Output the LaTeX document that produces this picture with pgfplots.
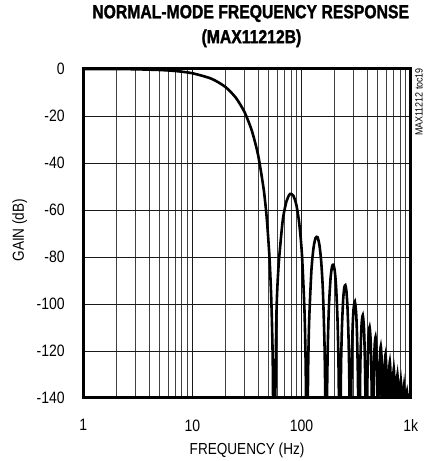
\documentclass[border=0pt]{standalone}
\usepackage{fontspec}
\setmainfont[FakeStretch=0.85, BoldFeatures={FakeStretch=0.83, FakeBold=1.5}]{Liberation Sans}
\usepackage{pgfplots}
\pgfplotsset{compat=1.18}

\begin{document}
\begin{tikzpicture}
\begin{axis}[
  name=ax, at={(0,0)}, anchor=south west,
  scale only axis, width=328pt, height=329.5pt,
  xmode=log, xmin=1, xmax=1000, ymin=-140, ymax=0,
  xtick={1,10,100,1000}, xticklabels={1,10,100,1k},
  minor xtick={2,3,4,5,6,7,8,9,20,30,40,50,60,70,80,90,200,300,400,500,600,700,800,900},
  ytick={-140,-120,-100,-80,-60,-40,-20,0},
  yticklabels={-140,-120,-100,-80,-60,-40,-20,0},
  grid=both,
  major grid style={black!90, line width=0.75pt},
  minor grid style={black!75, line width=0.75pt},
  major tick length=0pt, minor tick length=0pt,
  axis line style={line width=3pt},
  ticklabel style={font=\fontsize{16.5}{19}\selectfont, inner sep=0pt},
  xticklabel style={anchor=north, yshift=-21.5pt},
  yticklabel style={anchor=east, xshift=-18.3pt},
]
% sinc^4 response, nulls every 56 Hz (below -140 dB clipped)
\addplot[black, line width=2.6pt, smooth, tension=0.4] coordinates {
  (1,-0.02) (2,-0.07) (3,-0.16) (5,-0.46) (7,-0.90) (10,-1.84) (15,-4.20)
  (20,-7.62) (25,-12.24) (30,-18.31) (35,-26.19) (40,-36.63) (45,-51.19)
  (48,-63.43) (51,-81.15) (53,-99.94) (54.5,-124.9) (56,-180)
  (58.8,-106.0) (61.6,-83.9) (67.2,-64.6) (72.8,-56.3) (78.4,-53.2) (84,-53.9)
  (89.6,-57.8) (95.2,-65.6) (100.8,-78.7) (106.4,-102.9) (109.2,-127.5) (112,-180)
  (114.8,-129.2) (117.6,-106.4) (123.2,-85.6) (128.8,-76.1) (134.4,-71.9) (140,-71.6)
  (145.6,-74.7) (151.2,-81.6) (156.8,-94.0) (162.4,-117.6) (165.2,-141.9) (168,-180)
  (170.8,-143.0) (173.6,-119.9) (176.4,-107.0) (179.2,-98.6) (184.8,-88.6) (190.4,-84.0)
  (196,-83.3) (201.6,-86.0) (207.2,-92.6) (212.8,-104.6) (215.6,-114.0) (218.4,-127.9)
  (221.2,-152.0) (224,-180)
  (229.6,-129.6) (232.4,-116.6) (235.2,-108.1) (240.8,-97.8) (246.4,-93.0) (252,-92.0)
  (257.6,-94.5) (263.2,-100.9) (268.8,-112.7) (271.6,-122.0) (274.4,-135.8) (280,-180)
  (285.6,-137.2) (288.4,-124.1) (294,-109.4) (299.6,-102.1) (308,-99.0) (316.4,-104.0)
  (322,-112.6) (327.6,-128.5) (330.4,-142.2) (336,-180)
  (344.4,-130.3) (350,-115.5) (355.6,-108.0) (364,-104.8) (372.4,-109.6) (378,-118.2)
  (383.6,-134.0) (392,-180)
  (400.4,-135.5) (406,-120.6) (411.6,-113.1) (420,-109.8) (428.4,-114.5) (434,-123.0)
  (439.6,-138.8) (448,-180)
  (456.4,-140.1) (462,-125.1) (467.6,-117.5) (476,-114.1) (484.4,-118.7) (490,-127.2)
  (495.6,-142.9) (504,-180)
  (513.6,-144.1) (518,-129.1) (523.6,-121.5) (532,-118.0) (540.4,-122.5) (546,-130.9)
  (551.6,-146.6) (560,-180)
  (574,-132.7) (579.6,-125.0) (588,-121.5) (596.4,-126.0) (602,-134.3) (616,-180)
  (630,-135.9) (635.6,-128.2) (644,-124.6) (652.4,-129.1) (658,-137.4) (672,-180)
  (686,-138.9) (691.6,-131.1) (700,-127.5) (708.4,-131.9) (714,-140.3) (728,-180)
  (742,-141.6) (747.6,-133.8) (756,-130.2) (764.4,-134.6) (770,-142.9) (784,-180)
  (798,-144.1) (803.6,-136.3) (812,-132.7) (820.4,-137.1) (826,-145.3) (840,-180)
  (854,-146.5) (859.6,-138.7) (868,-135.0) (876.4,-139.3) (882,-147.6) (896,-180)
  (910,-148.9) (918.4,-138.7) (924,-137.2) (929.6,-139.1) (938,-149.7) (952,-180)
  (974.4,-140.7) (980,-139.2) (985.6,-141.1) (1000,-169)
};
\end{axis}
\node[font=\bfseries\fontsize{19}{21}\selectfont, anchor=base] at (167.7pt,380.2pt) {NORMAL-MODE FREQUENCY RESPONSE};
\node[font=\bfseries\fontsize{19}{21}\selectfont, anchor=base] at (168.5pt,355.2pt) {(MAX11212B)};
\node[font=\fontsize{16}{19}\selectfont, anchor=base] at (164.1pt,-56.5pt) {FREQUENCY (Hz)};
\node[font=\fontsize{16}{19}\selectfont, rotate=90, anchor=base] at (-59.3pt,168pt) {GAIN (dB)};
\node[font=\fontsize{10.5}{12}\selectfont, rotate=90, anchor=base east, inner sep=0pt] at (339.8pt,330.5pt) {MAX11212 toc19};
\path (-83.3pt,-62.5pt) rectangle (341.7pt,398.5pt);
\end{tikzpicture}
\end{document}
